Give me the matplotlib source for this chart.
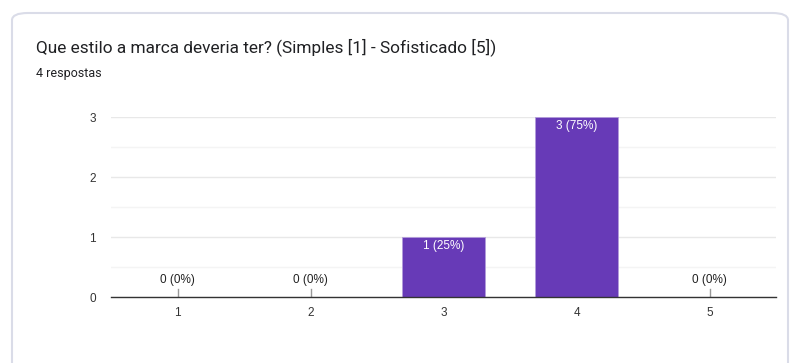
import matplotlib
matplotlib.use("Agg")
import matplotlib.pyplot as plt
from matplotlib.patches import FancyBboxPatch

# Survey results
categories = ["1", "2", "3", "4", "5"]
counts = [0, 0, 1, 3, 0]
total = 4
title = "Que estilo a marca deveria ter? (Simples [1] - Sofisticado [5])"
subtitle = "4 respostas"
yticks = [0, 1, 2, 3]

W, H = 790, 363
fig = plt.figure(figsize=(W / 100, H / 100), dpi=100)
fig.patch.set_facecolor("white")

# Card outline, drawn beneath the axes
card = FancyBboxPatch((12 / W, -0.2), (788 - 12) / W, (H - 13) / H + 0.2,
                      boxstyle="round,pad=0,rounding_size=0.02",
                      transform=fig.transFigure, facecolor="white",
                      edgecolor="#dadce8", linewidth=1.5, zorder=-5)
fig.patches.append(card)

font = ["Roboto", "DejaVu Sans"]
chart_font = ["Liberation Sans", "DejaVu Sans"]
fig.text(36 / W, 1 - 47 / H, title, fontsize=12.4, color="#202124",
         family=font, va="center", ha="left")
fig.text(36 / W, 1 - 74 / H, subtitle, fontsize=9, color="#202124",
         family=font, va="center", ha="left")

ax = fig.add_axes([111 / W, 1 - 297 / H, (776 - 111) / W, (297 - 117) / H])
ax.set_facecolor("none")
ax.set_zorder(1)
x = list(range(len(categories)))
purple = "#673ab7"
ax.bar(x, counts, width=0.62, color=purple, edgecolor="#b39ddb",
       linewidth=0.6, zorder=3)

ax.set_xlim(-0.5, len(categories) - 0.5)
ax.set_ylim(0, 3)
ax.set_yticks(yticks)
ax.set_yticklabels([str(v) for v in yticks])
ax.set_yticks([0.5, 1.5, 2.5], minor=True)
ax.grid(axis="y", which="major", color="#e8e8e8", linewidth=1, zorder=0)
ax.grid(axis="y", which="minor", color="#f4f4f4", linewidth=1, zorder=0)
ax.set_xticks(x)
ax.set_xticklabels(categories)
ax.tick_params(axis="both", which="both", length=0, labelsize=8.5,
               colors="#333333", labelfontfamily="Liberation Sans")
ax.tick_params(axis="y", pad=11)
ax.tick_params(axis="x", pad=7)
for s in ["top", "right", "left"]:
    ax.spines[s].set_visible(False)
ax.spines["bottom"].set_color("#333333")
ax.spines["bottom"].set_linewidth(1)
ax.spines["bottom"].set_zorder(4)

for xi, c in zip(x, counts):
    label = f"{c} ({round(100 * c / total)}%)"
    if c == 0:
        ax.plot([xi, xi], [0, 0.13], color="#999999", linewidth=1, zorder=4)
        ax.text(xi, 0.19, label, ha="center", va="bottom", fontsize=8.5,
                color="#222222", family=chart_font)
    else:
        ax.text(xi, c - 0.05, label, ha="center", va="top", fontsize=8.5,
                color="white", family=chart_font, zorder=5)

fig.savefig("out.png", dpi=100, facecolor="white")
